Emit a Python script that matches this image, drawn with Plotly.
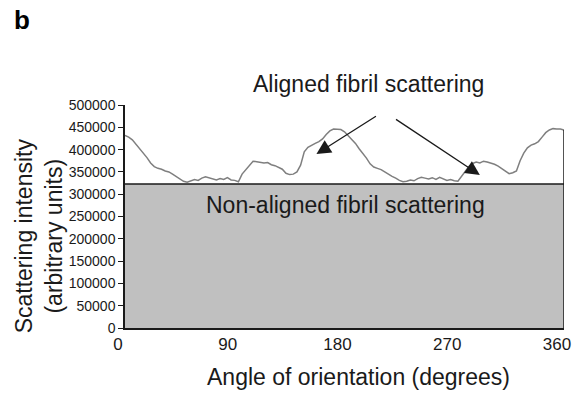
import plotly.graph_objects as go

# Data
angles = [0, 3, 6, 9, 12, 15, 18, 21, 24, 27, 30, 33, 36, 39, 42, 45, 48, 51, 54, 57,
          60, 63, 66, 69, 72, 75, 78, 81, 84, 87, 90, 93, 96, 99, 102, 105, 108, 111, 114, 117,
          120, 123, 126, 129, 132, 135, 138, 141, 144, 147, 150, 153, 156, 159, 162, 165, 168, 171, 174, 177,
          180, 183, 186, 189, 192, 195, 198, 201, 204, 207, 210, 213, 216, 219, 222, 225, 228, 231, 234, 237,
          240, 243, 246, 249, 252, 255, 258, 261, 264, 267, 270, 273, 276, 279, 282, 285, 288, 291, 294, 297,
          300, 303, 306, 309, 312, 315, 318, 321, 324, 327, 330, 333, 336, 339, 342, 345, 348, 351, 354, 357, 360]
intensity = [432000, 428000, 422000, 412000, 402000, 393000, 382000, 370000, 362000, 358000,
             356000, 352000, 350000, 345000, 340000, 334000, 329000, 327000, 330000, 333000,
             331000, 336000, 339000, 337000, 334000, 332000, 335000, 333000, 337000, 332000,
             331000, 328000, 345000, 355000, 366000, 374000, 373000, 372000, 370000, 371000,
             366000, 364000, 360000, 356000, 347000, 344000, 345000, 350000, 365000, 395000,
             405000, 410000, 414000, 418000, 424000, 434000, 442000, 446000, 446000, 445000,
             440000, 432000, 423000, 414000, 402000, 392000, 381000, 368000, 361000, 358000,
             355000, 350000, 344000, 340000, 336000, 331000, 328000, 329000, 332000, 330000,
             335000, 338000, 336000, 334000, 337000, 333000, 338000, 335000, 331000, 333000,
             330000, 329000, 340000, 352000, 362000, 369000, 372000, 370000, 374000, 372000,
             370000, 367000, 363000, 357000, 350000, 346000, 348000, 352000, 375000, 392000,
             404000, 410000, 413000, 418000, 428000, 438000, 444000, 447000, 446000, 446000, 444000]
baseline_level = 323000
x_ticks = [0, 90, 180, 270, 360]
y_ticks = [0, 50000, 100000, 150000, 200000, 250000, 300000, 350000, 400000, 450000, 500000]
y_ticklabels = ["0", "50000", "100000", "150000", "200000", "250000",
                "300000", "350000", "400000", "450000", "500000"]

FONT = "Liberation Sans, Arial, sans-serif"
W, H = 578, 397
ML, MR, MT, MB = 125, 7, 105, 69

fig = go.Figure()

# Non-aligned (isotropic) background as filled area
fig.add_trace(go.Scatter(
    x=[angles[0], angles[-1]], y=[baseline_level, baseline_level],
    mode="lines", fill="tozeroy", fillcolor="#c0c0c0",
    line=dict(color="#1a1a1a", width=1.5), hoverinfo="skip", showlegend=False))

# Scattering profile
fig.add_trace(go.Scatter(
    x=angles, y=intensity, mode="lines",
    line=dict(color="#7f7f7f", width=1.5), showlegend=False))

# right edge of chart
fig.add_shape(type="line", x0=360, x1=360, y0=0, y1=intensity[-1],
              xref="x", yref="y", line=dict(color="#1a1a1a", width=1.5))

# arrows
for (hx, hy, tx, ty) in [(157, 390000, 207, 477000), (291, 343000, 221, 470000)]:
    fig.add_annotation(x=hx, y=hy, ax=tx, ay=ty, xref="x", yref="y", axref="x", ayref="y",
                       text="", showarrow=True, arrowhead=2, arrowsize=2.2, arrowwidth=1.3,
                       arrowcolor="#1a1a1a")

fig.add_annotation(x=200, y=1.094, xref="x", yref="paper", text="Aligned fibril scattering",
                   showarrow=False, font=dict(family=FONT, size=23, color="#1a1a1a"),
                   xanchor="center", yanchor="middle")
fig.add_annotation(x=181, y=275000, xref="x", yref="y", text="Non-aligned fibril scattering",
                   showarrow=False, font=dict(family=FONT, size=23, color="#1a1a1a"),
                   xanchor="center", yanchor="middle")


def px_to_paper(px, py):
    return (px - ML) / (W - ML - MR), (H - py - MB) / (H - MT - MB)


pxs = [(38, 236, "Scattering intensity<br>(arbitrary units)", 23, -90, False),
       (362, 377, "Angle of orientation (degrees)", 23, 0, False),
       (20, 20, "b", 26, 0, True)]
for (px, py, txt, sz, ang, bold) in pxs:
    ax_, ay_ = px_to_paper(px, py)
    fig.add_annotation(x=ax_, y=ay_, xref="paper", yref="paper",
                       text=f"<b>{txt}</b>" if bold else txt, textangle=ang,
                       showarrow=False, font=dict(family=FONT, size=sz,
                                                  color="#000000" if bold else "#1a1a1a"),
                       xanchor="center", yanchor="middle")

fig.update_layout(
    width=W, height=H,
    margin=dict(l=ML, r=MR, t=MT, b=MB),
    paper_bgcolor="white", plot_bgcolor="white",
    font=dict(family=FONT, color="#1a1a1a"),
    xaxis=dict(range=[0, 360], tickvals=x_ticks, showgrid=False, zeroline=False,
               showline=True, linecolor="#1a1a1a", linewidth=1.5,
               ticks="", ticklabeloverflow="allow", ticklabelshift=-7,
               tickfont=dict(size=17, family=FONT)),
    yaxis=dict(range=[0, 500000], tickvals=y_ticks, ticktext=y_ticklabels, showgrid=False,
               zeroline=False, showline=True, linecolor="#1a1a1a", linewidth=1.5,
               ticks="outside", ticklen=5, tickcolor="#1a1a1a",
               tickfont=dict(size=14, family=FONT)),
)

fig.write_html("out.html")
